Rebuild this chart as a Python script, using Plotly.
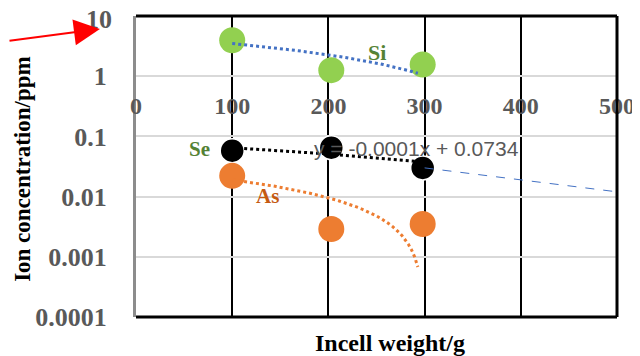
import numpy as np
import plotly.graph_objects as go

weights = [100, 203, 298]
si_vals = [3.96, 1.26, 1.56]
se_vals = [0.058, 0.065, 0.030]
as_vals = [0.0221, 0.0029, 0.0035]

ext_x = [300, 500]
ext_y = [0.030, 0.012]

x_ticks = [0, 100, 200, 300, 400, 500]
y_ticks = [0.0001, 0.001, 0.01, 0.1, 1]
y_tick_text = ["0.0001", "0.001", "0.01", "0.1", "1"]
y_top_label = "10"

trend_x = np.linspace(100, 293, 60)


def lin_trend(vals):
    b, a = np.polyfit(weights, vals, 1)
    return a + b * trend_x


SERIF = "Liberation Serif"
GRAY = "#595959"

fig = go.Figure()

fig.add_trace(go.Scatter(x=weights, y=si_vals, mode="markers",
                         marker=dict(size=26, color="#92d050"), showlegend=False))
fig.add_trace(go.Scatter(x=weights, y=se_vals, mode="markers",
                         marker=dict(size=24, color="black", line=dict(color="white", width=1.5)),
                         showlegend=False))
fig.add_trace(go.Scatter(x=weights, y=as_vals, mode="markers",
                         marker=dict(size=26, color="#ed7d31"), showlegend=False))

fig.add_trace(go.Scatter(x=trend_x, y=lin_trend(si_vals), mode="lines",
                         line=dict(color="#4472c4", width=3, dash="dot"), showlegend=False))
fig.add_trace(go.Scatter(x=trend_x, y=lin_trend(se_vals), mode="lines",
                         line=dict(color="black", width=3, dash="dot"), showlegend=False))
fig.add_trace(go.Scatter(x=trend_x, y=np.clip(lin_trend(as_vals), 1e-5, None), mode="lines",
                         line=dict(color="#ed7d31", width=3, dash="dot"), showlegend=False))
fig.add_trace(go.Scatter(x=ext_x, y=ext_y, mode="lines",
                         line=dict(color="#4472c4", width=1, dash="dash"), showlegend=False))

# labels
fig.add_annotation(x=250, y=np.log10(2.5), text="<b>Si</b>", showarrow=False,
                   font=dict(family=SERIF, size=22, color="#548235"))
fig.add_annotation(x=66, y=np.log10(0.061), text="<b>Se</b>", showarrow=False,
                   font=dict(family=SERIF, size=21, color="#548235"))
fig.add_annotation(x=137, y=np.log10(0.0102), text="<b>As</b>", showarrow=False,
                   font=dict(family=SERIF, size=21, color="#c55a11"))
fig.add_annotation(x=292, y=np.log10(0.062), text="y = -0.0001x + 0.0734", showarrow=False,
                   font=dict(family="Liberation Sans", size=21, color=GRAY))

# top tick label placed just inside the page edge
fig.add_annotation(xref="paper", yref="paper", x=-0.046, y=0.9875, xanchor="right",
                   yanchor="middle", text="<b>%s</b>" % y_top_label, showarrow=False,
                   font=dict(family=SERIF, size=26, color=GRAY))

# red arrow
fig.add_annotation(xref="paper", yref="paper", x=-0.075, y=0.957, text="",
                   showarrow=True, ax=-100, ay=12, arrowhead=2, arrowsize=2.6,
                   arrowwidth=2, arrowcolor="red")

# borders
fig.add_shape(type="line", xref="paper", yref="paper", x0=0, x1=1, y0=1, y1=1,
              line=dict(color="black", width=3))
fig.add_shape(type="line", xref="paper", yref="paper", x0=1, x1=1, y0=0, y1=1,
              line=dict(color="black", width=3))
fig.add_shape(type="line", xref="paper", yref="paper", x0=0, x1=1, y0=0, y1=0,
              line=dict(color="black", width=3))

fig.update_layout(
    width=632, height=348,
    margin=dict(l=128, r=23, t=8, b=39, autoexpand=False),
    plot_bgcolor="white", paper_bgcolor="white",
    xaxis=dict(range=[0, 500], tickvals=x_ticks, ticktext=["<b>%d</b>" % v for v in x_ticks],
               showgrid=True, gridcolor="black", gridwidth=2, zeroline=False,
               showline=False, anchor="free", position=0.797, ticks="",
               ticklabelstandoff=12, automargin=False, ticklabeloverflow="allow",
               tickfont=dict(family=SERIF, size=24, color=GRAY)),
    yaxis=dict(type="log", range=[-4.0003, 1.0003], tickvals=y_ticks,
               ticktext=["<b>%s</b>" % t for t in y_tick_text],
               showgrid=True, gridcolor="#d9d9d9", gridwidth=2, zeroline=False,
               showline=True, linecolor="#8c8c8c", linewidth=3, ticks="",
               ticklabelstandoff=21, automargin=False, ticklabeloverflow="allow",
               tickfont=dict(family=SERIF, size=26, color=GRAY)),
)

fig.add_annotation(xref="paper", yref="paper", x=0.528, y=-0.086, yanchor="middle",
                   xanchor="center",
                   text="<b>Incell weight/g</b>", showarrow=False,
                   font=dict(family=SERIF, size=24, color="black"))
fig.add_annotation(xref="paper", yref="paper", x=-0.235, y=0.492, textangle=-90,
                   xanchor="center", yanchor="middle",
                   text="<b>Ion concentration/ppm</b>", showarrow=False,
                   font=dict(family=SERIF, size=23, color="black"))

fig.write_html("out.html")
